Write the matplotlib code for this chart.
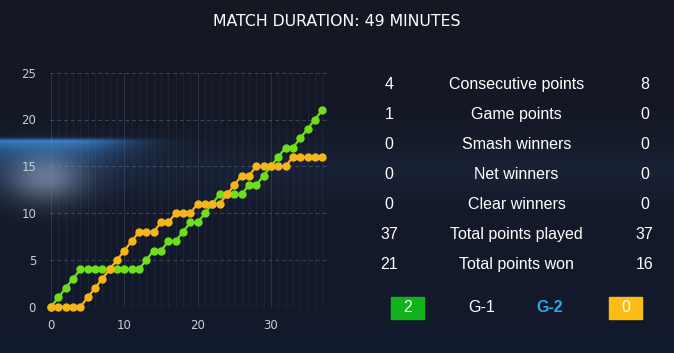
import numpy as np
import matplotlib
matplotlib.use("Agg")
from matplotlib import pyplot as plt
from matplotlib.patches import Rectangle

# cumulative points per rally (x = rally number)
rally = list(range(38))
green_score = [0, 1, 2, 3, 4, 4, 4, 4, 4, 4, 4, 4, 4, 5, 6, 6, 7, 7, 8, 9,
               9, 10, 11, 12, 12, 12, 12, 13, 13, 14, 15, 16, 17, 17, 18, 19, 20, 21]
orange_score = [0, 0, 0, 0, 0, 1, 2, 3, 4, 5, 6, 7, 8, 8, 8, 9, 9, 10, 10, 10,
                11, 11, 11, 11, 12, 13, 14, 14, 15, 15, 15, 15, 15, 16, 16, 16, 16, 16]

stat_names = ["Consecutive points", "Game points", "Smash winners", "Net winners",
              "Clear winners", "Total points played", "Total points won"]
left_vals = ["4", "1", "0", "0", "0", "37", "21"]
right_vals = ["8", "0", "0", "0", "0", "37", "16"]
games_won = ["2", "0"]
game_labels = ["G-1", "G-2"]

title = "MATCH DURATION: 49 MINUTES"

GREEN = "#6de01b"
ORANGE = "#f6b519"
W, H = 674, 353
FONT = ["Liberation Sans", "DejaVu Sans"]

fig = plt.figure(figsize=(W / 100, H / 100), dpi=100)

# background: dark navy gradient with a blurred blue streak on the left
bg = fig.add_axes([0, 0, 1, 1])
yy, xx = np.mgrid[0:H, 0:W].astype(float)
top = np.array([0.085, 0.095, 0.135])
bot = np.array([0.07, 0.10, 0.175])
t = (yy / H)[..., None]
img = top * (1 - t) + bot * t
# faint horizontal band across the picture
band = np.exp(-((yy - 170) / 30.0) ** 2)[..., None] * np.array([0.02, 0.03, 0.05])
img = img + band
# blue streak: sharp top edge near y=141, fading downwards and to the right
below = np.where(yy >= 141, np.exp(-(yy - 141) / 16.0), np.exp(-((141 - yy) / 3.0) ** 2))
horiz = np.exp(-((np.maximum(xx - 70, 0)) / 65.0) ** 2)
img = img + (below * horiz)[..., None] * np.array([0.10, 0.36, 0.58])
# grey haze under the streak
haze = np.exp(-(((xx - 45) / 38.0) ** 2 + ((yy - 178) / 24.0) ** 2))[..., None]
img = img + haze * np.array([0.30, 0.31, 0.33])
bg.imshow(np.clip(img, 0, 1), aspect="auto", extent=[0, W, H, 0])
bg.set_xlim(0, W)
bg.set_ylim(H, 0)
bg.axis("off")

# score progression chart
ax = fig.add_axes([50 / W, 46.3 / H, 277 / W, 234 / H])
ax.patch.set_alpha(0)
for s in ax.spines.values():
    s.set_visible(False)
ax.set_xlim(-0.15, 37.65)
ax.set_ylim(0, 25)
for v in range(38):
    ax.axvline(v, color="#8890a8", alpha=0.25 if v % 10 == 0 else 0.10, lw=0.6, zorder=0)
for v in range(5, 30, 5):
    ax.axhline(v, color="#9098b0", alpha=0.35, lw=0.7, ls=(0, (4, 3)), zorder=0)
ax.axhline(0, color="#c0c4d0", alpha=0.6, lw=0.8, ls=(0, (4, 3)), zorder=0)

ax.plot(rally, green_score, color=GREEN, lw=1.6, marker="o", ms=5, clip_on=False, zorder=3)
ax.plot(rally, orange_score, color=ORANGE, lw=1.6, marker="o", ms=5, clip_on=False, zorder=4)

ax.set_xticks([0, 10, 20, 30])
ax.set_yticks([0, 5, 10, 15, 20, 25])
ax.tick_params(axis="y", length=0, labelsize=8.5, colors="#c9cdd8", pad=10)
ax.tick_params(axis="x", length=0, labelsize=8.5, colors="#c9cdd8", pad=9)

# title
fig.text(337 / W, 1 - 21 / H, title, color="white", fontsize=11.3, ha="center",
         va="center", family=["Liberation Sans Narrow", "DejaVu Sans"])

# stats table
for i, name in enumerate(stat_names):
    y = 1 - (84.5 + 30 * i) / H
    fig.text(389 / W, y, left_vals[i], color="white", fontsize=11.5, ha="center",
             va="center", family=FONT)
    fig.text(516.5 / W, y, name, color="white", fontsize=11.5, ha="center",
             va="center", family=FONT)
    fig.text(644.5 / W, y, right_vals[i], color="white", fontsize=11.5, ha="center",
             va="center", family=FONT)

# games row
yb = 1 - 308 / H
fig.patches.append(Rectangle((391 / W, 1 - 319 / H), 33 / W, 22 / H,
                             transform=fig.transFigure, color="#0fb31a"))
fig.patches.append(Rectangle((609 / W, 1 - 319 / H), 33 / W, 22 / H,
                             transform=fig.transFigure, color="#fbbd14"))
fig.text(407.5 / W, yb, games_won[0], color="white", fontsize=11.5, ha="center",
         va="center", family=FONT)
fig.text(625.5 / W, yb, games_won[1], color="white", fontsize=11.5, ha="center",
         va="center", family=FONT)
fig.text(482 / W, yb, game_labels[0], color="white", fontsize=11.5, ha="center",
         va="center", family=FONT)
fig.text(550 / W, yb, game_labels[1], color="#2aa8df", fontsize=11.5, ha="center",
         va="center", family=FONT, fontweight="bold")

fig.savefig("out.png", dpi=100)
